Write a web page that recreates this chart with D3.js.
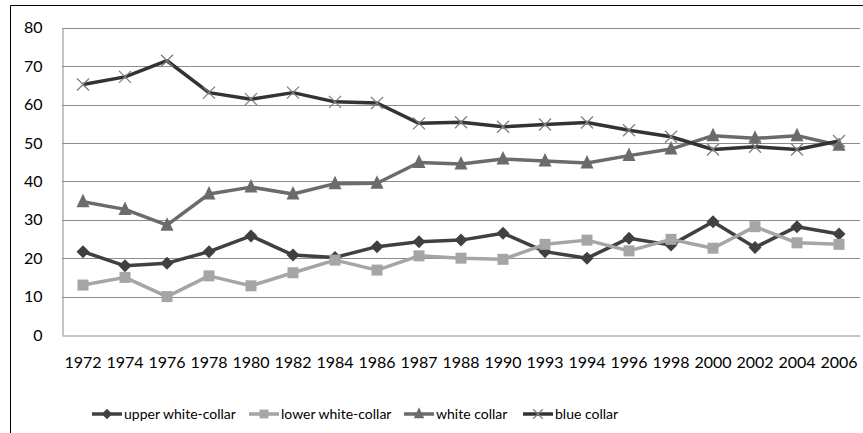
<!DOCTYPE html>
<html><head><meta charset="utf-8">
<script src="https://cdn.jsdelivr.net/npm/d3@7/dist/d3.min.js"></script>
<style>body{margin:0;background:#fff}svg{display:block}text{font-family:Lato,"Open Sans",sans-serif}</style>
</head><body>
<script>
const years = ["1972","1974","1976","1978","1980","1982","1984","1986","1987","1988","1990","1993","1994","1996","1998","2000","2002","2004","2006"];
const upperWhiteCollar = [21.7,18.0,18.7,21.7,25.8,20.8,20.2,23.0,24.3,24.7,26.5,21.7,20.0,25.2,23.4,29.5,22.8,28.2,26.3];
const lowerWhiteCollar = [13.0,15.0,10.0,15.4,12.8,16.2,19.5,16.9,20.6,20.0,19.7,23.6,24.7,21.9,24.9,22.6,28.2,24.0,23.6];
const whiteCollar = [34.7,32.7,28.6,36.7,38.5,36.7,39.4,39.5,44.9,44.5,45.8,45.3,44.8,46.7,48.4,51.9,51.2,51.9,49.4];
const blueCollar = [65.2,67.2,71.4,63.1,61.4,63.1,60.7,60.4,55.1,55.4,54.2,54.8,55.3,53.3,51.6,48.3,49.0,48.3,50.5];
const yTicks = [0,10,20,30,40,50,60,70,80];
const seriesNames = ["upper white-collar","lower white-collar","white collar","blue collar"];

const W = 863, H = 433;
const svg = d3.select("body").append("svg").attr("width", W).attr("height", H);

svg.append("line").attr("x1",10.5).attr("x2",W).attr("y1",5.5).attr("y2",5.5).attr("stroke","#000").attr("stroke-width",1);
svg.append("line").attr("x1",10.5).attr("x2",10.5).attr("y1",5.5).attr("y2",H).attr("stroke","#000").attr("stroke-width",1);

const x = d3.scaleBand().domain(years).range([62, 860]);
const y = d3.scaleLinear().domain([0, 80]).range([335, 27.7]);

svg.append("g").selectAll("line").data(yTicks.filter(d=>d>0)).join("line")
  .attr("x1",62).attr("x2",860)
  .attr("y1",d=>Math.round(y(d))+0.5).attr("y2",d=>Math.round(y(d))+0.5)
  .attr("stroke","#8c8c8c").attr("stroke-width",1);

const yAxis = svg.append("g").attr("transform","translate(62.5,0)").call(d3.axisLeft(y).tickValues(yTicks).tickSize(0).tickPadding(20));
yAxis.select(".domain").attr("stroke","#8c8c8c");
yAxis.selectAll("text").attr("font-size",16).attr("fill","#000");

const xAxis = svg.append("g").attr("transform","translate(0,335.5)").call(d3.axisBottom(x).tickSize(0).tickPadding(21));
xAxis.select(".domain").attr("stroke","#8c8c8c");
xAxis.selectAll("text").attr("font-size",16).attr("fill","#000");

const cx = i => x(years[i]) + x.bandwidth()/2;
const series = [
  {name:seriesNames[0], vals:upperWhiteCollar, line:"#404040", mark:"#404040", sym:"diamond"},
  {name:seriesNames[1], vals:lowerWhiteCollar, line:"#a5a5a5", mark:"#a5a5a5", sym:"square"},
  {name:seriesNames[2], vals:whiteCollar, line:"#6b6b6b", mark:"#6b6b6b", sym:"triangle"},
  {name:seriesNames[3], vals:blueCollar, line:"#333333", mark:"#7f7f7f", sym:"x"}
];

function drawMarker(g, sym, color, px, py, scale){
  scale = scale || 1;
  if (sym === "diamond") {
    const s = 6.5*scale;
    g.append("path").attr("d",`M${px},${py-s}L${px+s},${py}L${px},${py+s}L${px-s},${py}Z`).attr("fill",color);
  } else if (sym === "square") {
    const s = 5.5*scale;
    g.append("rect").attr("x",px-s).attr("y",py-s).attr("width",2*s).attr("height",2*s).attr("fill",color);
  } else if (sym === "triangle") {
    const s = 6.5*scale;
    g.append("path").attr("d",`M${px},${py-s-1.5}L${px+s},${py+s-1}L${px-s},${py+s-1}Z`).attr("fill",color);
  } else {
    const s = 6*scale;
    g.append("path").attr("d",`M${px-s},${py-s}L${px+s},${py+s}M${px-s},${py+s}L${px+s},${py-s}`).attr("stroke",color).attr("stroke-width",1.3).attr("fill","none");
  }
}

const line = d3.line().x((d,i)=>cx(i)).y(d=>y(d));
series.forEach(s => {
  const g = svg.append("g");
  g.append("path").datum(s.vals).attr("d", line).attr("fill","none").attr("stroke", s.line).attr("stroke-width",3.5).attr("stroke-linejoin","round");
  s.vals.forEach((v,i) => drawMarker(g, s.sym, s.mark, cx(i), y(v)));
});

const legX = [92, 249, 404, 523];
const legY = 414;
series.forEach((s,i) => {
  const g = svg.append("g");
  g.append("line").attr("x1",legX[i]).attr("x2",legX[i]+30).attr("y1",legY).attr("y2",legY).attr("stroke",s.line).attr("stroke-width",3.5);
  drawMarker(g, s.sym, s.mark, legX[i]+15, legY, 0.8);
  g.append("text").attr("x",legX[i]+32).attr("y",legY).attr("dy","0.35em")
    .attr("font-size",14).attr("fill","#000").text(s.name);
});
</script>
</body></html>
